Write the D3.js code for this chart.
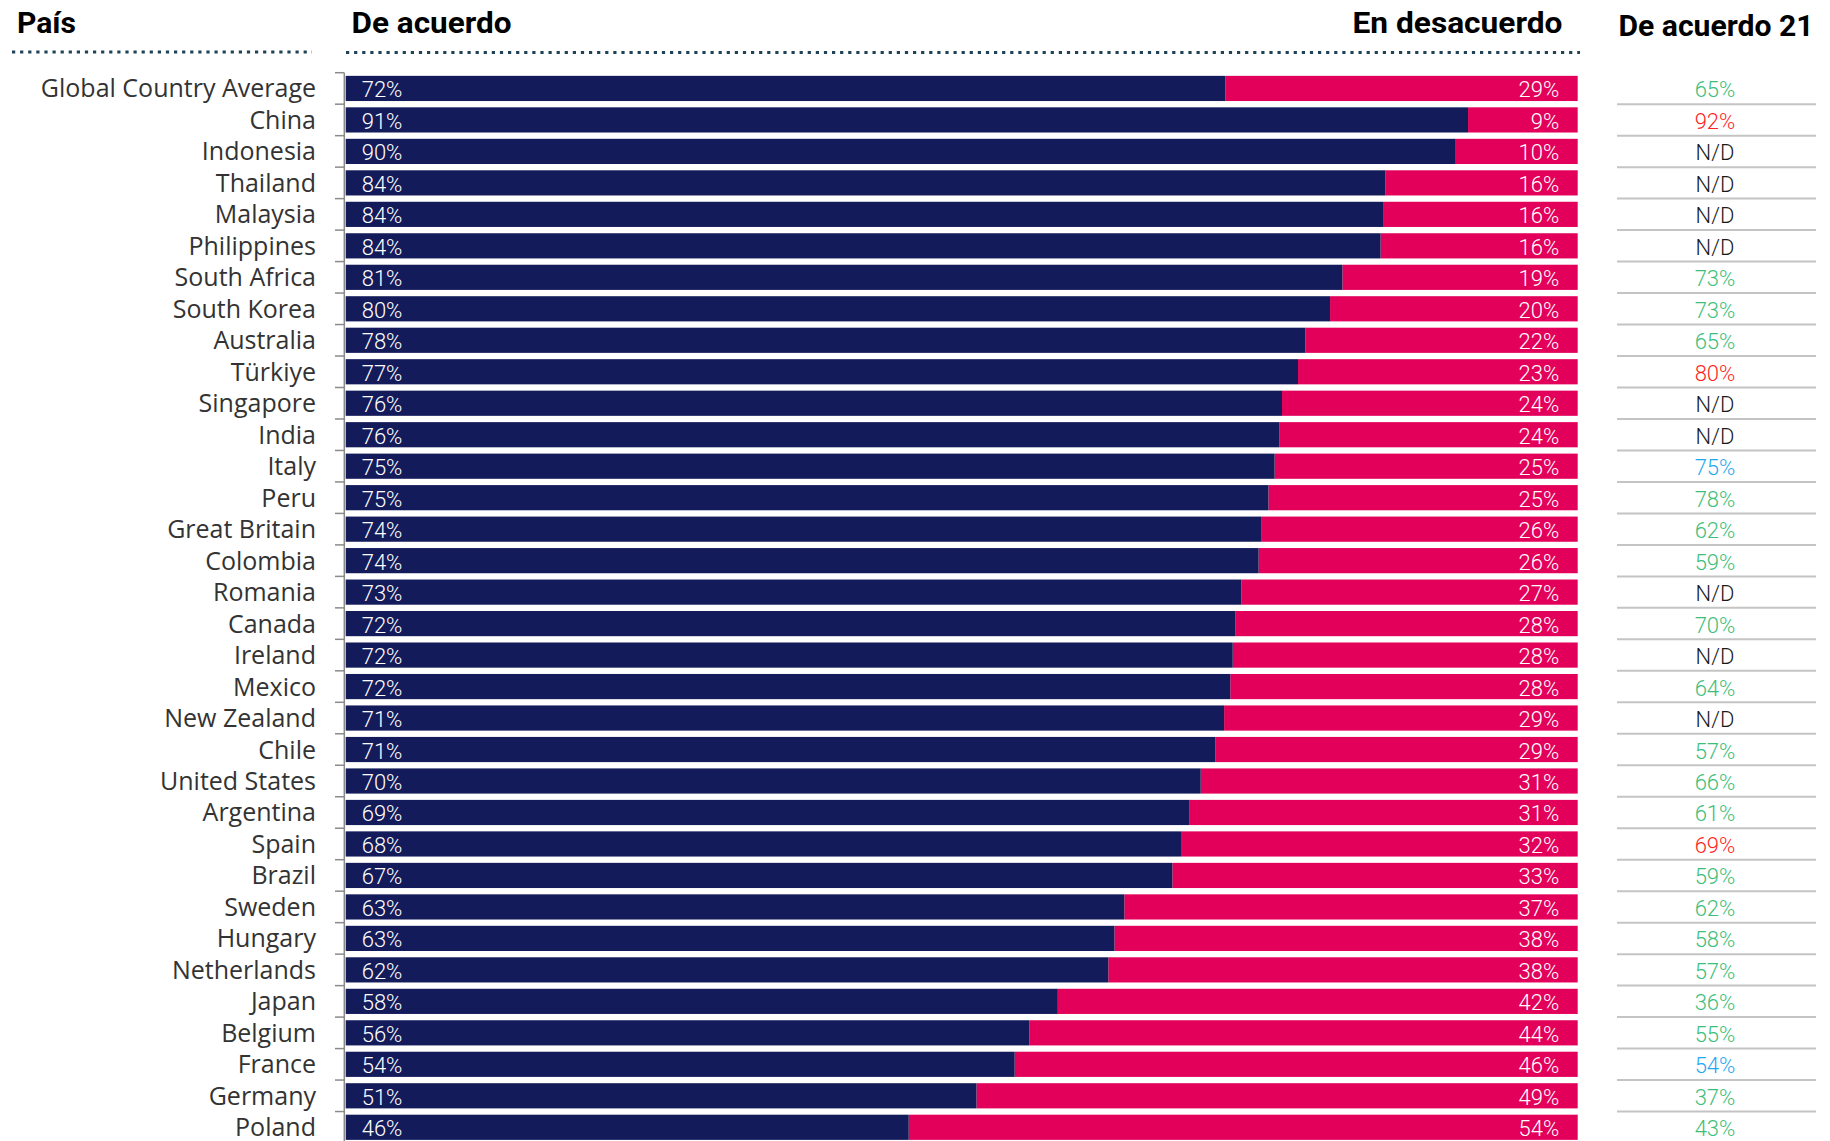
<!DOCTYPE html>
<html>
<head>
<meta charset="utf-8">
<script src="https://cdn.jsdelivr.net/npm/d3@7"></script>
<style>
  html, body { margin: 0; padding: 0; background: #fff; overflow: hidden; }
  svg { display: block; }
</style>
</head>
<body>
<svg id="chart" width="1830" height="1141"></svg>
<script>
// ---------- DATA ----------
const countries = ["Global Country Average","China","Indonesia","Thailand","Malaysia","Philippines","South Africa","South Korea","Australia","Türkiye","Singapore","India","Italy","Peru","Great Britain","Colombia","Romania","Canada","Ireland","Mexico","New Zealand","Chile","United States","Argentina","Spain","Brazil","Sweden","Hungary","Netherlands","Japan","Belgium","France","Germany","Poland"];
const agreeLabel = [72,91,90,84,84,84,81,80,78,77,76,76,75,75,74,74,73,72,72,72,71,71,70,69,68,67,63,63,62,58,56,54,51,46];
const disagreeLabel = [29,9,10,16,16,16,19,20,22,23,24,24,25,25,26,26,27,28,28,28,29,29,31,31,32,33,37,38,38,42,44,46,49,54];
const agreeShare = [71.4,91.1,90.1,84.4,84.2,84.0,80.9,79.9,77.9,77.3,76.0,75.8,75.4,74.9,74.3,74.1,72.7,72.2,72.0,71.8,71.3,70.6,69.4,68.5,67.8,67.1,63.2,62.4,61.9,57.8,55.5,54.3,51.2,45.7];
const agree2021 = [65,92,null,null,null,null,73,73,65,80,null,null,75,78,62,59,null,70,null,64,null,57,66,61,69,59,62,58,57,36,55,54,37,43];
// trend vs 2021 as coloured in the source: up / down / same / none
const trend = ["up","down","none","none","none","none","up","up","up","down","none","none","same","up","up","up","none","up","none","up","none","up","up","up","down","up","up","up","up","up","up","same","up","up"];
const headers = {country: "País", agree: "De acuerdo", disagree: "En desacuerdo", prev: "De acuerdo 21"};

// ---------- STYLE ----------
const navy = "#141b5a", pink = "#e3005a";
const trendColor = {up: "#3dbe7b", down: "#ff1f1f", same: "#1fa9ef", none: "#1a1a1a"};

const rows = countries.map((c, i) => ({
  country: c, agree: agreeLabel[i], disagree: disagreeLabel[i], share: agreeShare[i],
  prev: agree2021[i], trend: trend[i]
}));

const svg = d3.select("#chart");

const x = d3.scaleLinear().domain([0, 100]).range([345.7, 1577.7]);
const step = 31.48;
const y = d3.scaleBand().domain(countries)
  .range([72.7, 72.7 + step * countries.length])
  .paddingInner(0.2).paddingOuter(0.1);

// ---------- HEADERS ----------
const hFont = "Roboto, 'DejaVu Sans Condensed', sans-serif";
function header(txt, xx, yy, anchor, len) {
  const t = svg.append("text").attr("x", xx).attr("y", yy)
    .attr("text-anchor", anchor)
    .attr("font-family", hFont).attr("font-weight", 700).attr("font-size", 30)
    .attr("fill", "#000").text(txt);
  if (len) t.attr("textLength", len).attr("lengthAdjust", "spacingAndGlyphs");
}
header(headers.country, 17, 33, "start", 59);
header(headers.agree, 351.5, 33, "start", 160);
header(headers.disagree, 1562.5, 32.5, "end", 210);
header(headers.prev, 1618.5, 36, "start", 195);

// dotted rules
svg.append("line").attr("x1", 12).attr("x2", 312).attr("y1", 52).attr("y2", 52)
  .attr("stroke", "#1f4257").attr("stroke-width", 3).attr("stroke-dasharray", "3.2 4.9");
svg.append("line").attr("x1", 346).attr("x2", 1580).attr("y1", 52.5).attr("y2", 52.5)
  .attr("stroke", "#1f4257").attr("stroke-width", 3).attr("stroke-dasharray", "3.2 4.9");

// ---------- BARS ----------
const g = svg.append("g");
const rowG = g.selectAll("g.row").data(rows).join("g").attr("class", "row");

rowG.append("rect")
  .attr("x", d => x(d.share)).attr("width", d => x(100) - x(d.share))
  .attr("y", d => y(d.country)).attr("height", y.bandwidth())
  .attr("fill", pink);
rowG.append("rect")
  .attr("x", x(0)).attr("width", d => x(d.share) - x(0))
  .attr("y", d => y(d.country)).attr("height", y.bandwidth())
  .attr("fill", navy);

const pFont = "Roboto, sans-serif";
rowG.append("text")
  .attr("x", x(0) + 16).attr("y", d => y(d.country) + y.bandwidth() / 2 + 9)
  .attr("font-family", pFont).attr("font-weight", 300).attr("font-size", 22)
  .attr("fill", "#fff").text(d => d.agree + "%");
rowG.append("text")
  .attr("x", x(100) - 18.5).attr("y", d => y(d.country) + y.bandwidth() / 2 + 9)
  .attr("text-anchor", "end")
  .attr("font-family", pFont).attr("font-weight", 300).attr("font-size", 22)
  .attr("fill", "#fff").text(d => d.disagree + "%");

// ---------- Y AXIS ----------
const axisG = svg.append("g");
const bounds = d3.range(countries.length + 1).map(i => y.range()[0] + i * y.step());
axisG.append("line").attr("x1", 344.3).attr("x2", 344.3)
  .attr("y1", bounds[0]).attr("y2", bounds[bounds.length - 1])
  .attr("stroke", "#8a8a8a").attr("stroke-width", 1.5);
axisG.selectAll("line.tick").data(bounds).join("line").attr("class", "tick")
  .attr("x1", 335).attr("x2", 344.3).attr("y1", d => d).attr("y2", d => d)
  .attr("stroke", "#8a8a8a").attr("stroke-width", 1.5);
axisG.selectAll("text").data(rows).join("text")
  .attr("x", 316).attr("y", d => y(d.country) + y.bandwidth() / 2 + 9)
  .attr("text-anchor", "end")
  .attr("font-family", "'Open Sans', 'Noto Sans', sans-serif").attr("font-size", 25)
  .attr("fill", "#333").text(d => d.country);

// ---------- 2021 COLUMN ----------
const colG = svg.append("g");
colG.selectAll("line").data(rows.slice(0, rows.length - 1)).join("line")
  .attr("x1", 1617).attr("x2", 1816)
  .attr("y1", (d, i) => bounds[i + 1]).attr("y2", (d, i) => bounds[i + 1])
  .attr("stroke", "#c4c4c4").attr("stroke-width", 2);
colG.selectAll("text").data(rows).join("text")
  .attr("x", 1715).attr("y", d => y(d.country) + y.bandwidth() / 2 + 9)
  .attr("text-anchor", "middle")
  .attr("font-family", pFont).attr("font-weight", 300).attr("font-size", 22)
  .attr("fill", d => trendColor[d.trend])
  .text(d => d.prev == null ? "N/D" : d.prev + "%");
</script>
</body>
</html>
